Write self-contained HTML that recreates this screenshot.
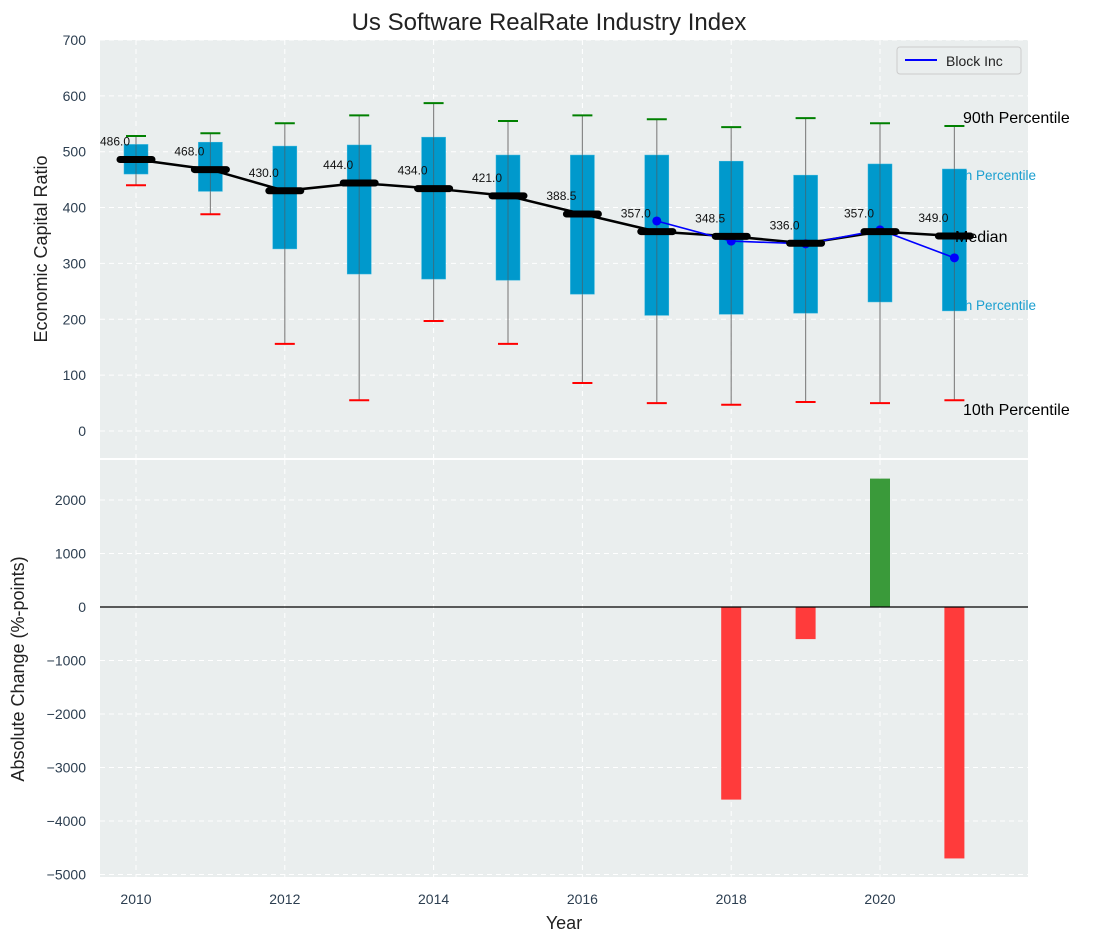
<!DOCTYPE html>
<html><head><meta charset="utf-8"><style>
body{margin:0;background:#fff}
svg{display:block;font-family:"Liberation Sans","DejaVu Sans",sans-serif}
</style></head><body>
<svg id="chart" width="1098" height="942" viewBox="0 0 1098 942" xmlns="http://www.w3.org/2000/svg">
<text x="549" y="30" font-size="24" text-anchor="middle" fill="#222">Us Software RealRate Industry Index</text>
<rect x="100" y="40" width="928" height="418" fill="#eaeeee"/>
<rect x="100" y="460" width="928" height="417" fill="#eaeeee"/>
<g id="grid"></g>
<g id="marks"></g>
<text transform="translate(47,249) rotate(-90)" font-size="18" text-anchor="middle" fill="#222">Economic Capital Ratio</text>
<text transform="translate(24,669) rotate(-90)" font-size="18" text-anchor="middle" fill="#222">Absolute Change (%-points)</text>
<text x="564" y="929" font-size="18" text-anchor="middle" fill="#222">Year</text>
<g>
<rect x="897" y="47" width="124" height="27" fill="#eaeeee" stroke="#ccc" rx="3"/>
<line x1="905" y1="60" x2="937" y2="60" stroke="#0000ff" stroke-width="2"/>
<text x="946" y="66" font-size="14" fill="#222">Block Inc</text>
</g>
</svg>
<script>
const years=[2010,2011,2012,2013,2014,2015,2016,2017,2018,2019,2020,2021];
const p10=[440,388,156,55,197,156,86,50,47,52,50,55];
const q1=[460,429,326,281,272,270,245,207,209,211,231,215];
const medians=[486,468,430,444,434,421,388.5,357,348.5,336,357,349];
const q3=[513,517,510,512,526,494,494,494,483,458,478,469];
const p90=[528,533,551,565,587,555,565,558,544,560,551,546];
const blockYears=[2017,2018,2019,2020,2021];
const blockVals=[376,340,335,360,310];
const changeYears=[2018,2019,2020,2021];
const changeVals=[-3600,-600,2400,-4700];
const yTicksTop=[0,100,200,300,400,500,600,700];
const yTicksBot=[-5000,-4000,-3000,-2000,-1000,0,1000,2000];
const xTicks=[2010,2012,2014,2016,2018,2020];

const NS="http://www.w3.org/2000/svg";
const X=v=>136+(v-2010)*74.4;
const Y1=v=>431-v*0.5586;
const Y2=v=>607-v*0.0535;
const grid=document.getElementById('grid'),marks=document.getElementById('marks');
function mk(tag,attrs,parent,text){const e=document.createElementNS(NS,tag);for(const k in attrs)e.setAttribute(k,attrs[k]);if(text!==undefined)e.textContent=text;parent.appendChild(e);return e;}
const tick="#2c3e50";
yTicksTop.forEach(v=>{
 const l=mk('line',{x1:100,x2:1028,y1:Y1(v),y2:Y1(v),stroke:'#fff','stroke-dasharray':'5,4','stroke-width':1},grid);
 
 
 const t=mk('text',{x:86,y:Y1(v)+5,'font-size':14,'text-anchor':'end',fill:tick},grid,String(v));
 
 
});
yTicksBot.forEach(v=>{
 const l=mk('line',{x1:100,x2:1028,y1:Y2(v),y2:Y2(v),stroke:'#fff','stroke-dasharray':'5,4','stroke-width':1},grid);
 
 
 const t=mk('text',{x:86,y:Y2(v)+5,'font-size':14,'text-anchor':'end',fill:tick},grid,v<0?'\u2212'+Math.abs(v):String(v));
 
 
});
xTicks.forEach(v=>{
 [[40,458],[460,877]].forEach(r=>{
  const l=mk('line',{x1:X(v),x2:X(v),y1:r[0],y2:r[1],stroke:'#fff','stroke-dasharray':'5,4','stroke-width':1},grid);
  
  
 });
 const t=mk('text',{x:X(v),y:904,'font-size':14,'text-anchor':'middle',fill:tick},grid,String(v));
 
 
});
const a1=mk('text',{x:946,y:180,'font-size':13.5,fill:'#1a9fd0'},marks,'75th Percentile');


const a2=mk('text',{x:946,y:310,'font-size':13.5,fill:'#1a9fd0'},marks,'25th Percentile');


years.forEach((yr,i)=>{
 const x=X(yr);
 const w=mk('line',{x1:x,x2:x,y1:Y1(p90[i]),y2:Y1(p10[i]),stroke:'#888','stroke-width':1.2},marks);
 
 
 const b=mk('rect',{x:x-12,y:Y1(q3[i]),width:24,height:Y1(q1[i])-Y1(q3[i]),fill:'#0099cc',stroke:'#33b5dd','stroke-width':0.5},marks);
 
 
 const w2=mk('line',{x1:x,x2:x,y1:Y1(q3[i]),y2:Y1(q1[i]),stroke:'#555','stroke-width':1,'stroke-opacity':0.6},marks);
 
 
 const h=mk('line',{x1:x-10,x2:x+10,y1:Y1(p90[i]),y2:Y1(p90[i]),stroke:'#008000','stroke-width':2},marks);
 
 
 const lo=mk('line',{x1:x-10,x2:x+10,y1:Y1(p10[i]),y2:Y1(p10[i]),stroke:'#ff0000','stroke-width':2},marks);
 
 
});
const medLine=mk('polyline',{points:years.map((y,i)=>X(y)+','+Y1(medians[i])).join(' '),fill:'none',stroke:'#000','stroke-width':2.5},marks);


const bl=mk('polyline',{points:blockYears.map((y,i)=>X(y)+','+Y1(blockVals[i])).join(' '),fill:'none',stroke:'#0000ff','stroke-width':1.6},marks);


blockYears.forEach((y,i)=>{
 const c=mk('circle',{cx:X(y),cy:Y1(blockVals[i]),r:4.5,fill:'#0000ff'},marks);
 
 
});
years.forEach((yr,i)=>{
 const x=X(yr);
 const m=mk('line',{x1:x-16,x2:x+16,y1:Y1(medians[i]),y2:Y1(medians[i]),stroke:'#000','stroke-width':7,'stroke-linecap':'round'},marks);
 
 
 const t=mk('text',{x:x-21,y:Y1(medians[i])-14,'font-size':12,'text-anchor':'middle',fill:'#111'},marks,medians[i].toFixed(1));
 
 
});
[['90th Percentile',963,123,'p90-annotation'],['Median',955,242,'median-annotation'],['10th Percentile',963,415,'p10-annotation']].forEach(a=>{
 const t=mk('text',{x:a[1],y:a[2],'font-size':16,fill:'#000'},marks,a[0]);
 
 
});
changeYears.forEach((y,i)=>{
 const v=changeVals[i];
 const r=mk('rect',{x:X(y)-10,y:Math.min(Y2(v),Y2(0)),width:20,height:Math.abs(Y2(v)-Y2(0)),fill:v>=0?'#3a9a3a':'#ff3b3b'},marks);
 
 
});
const z=mk('line',{x1:100,x2:1028,y1:Y2(0),y2:Y2(0),stroke:'#000','stroke-width':1.2},marks);


</script>
</body></html>
